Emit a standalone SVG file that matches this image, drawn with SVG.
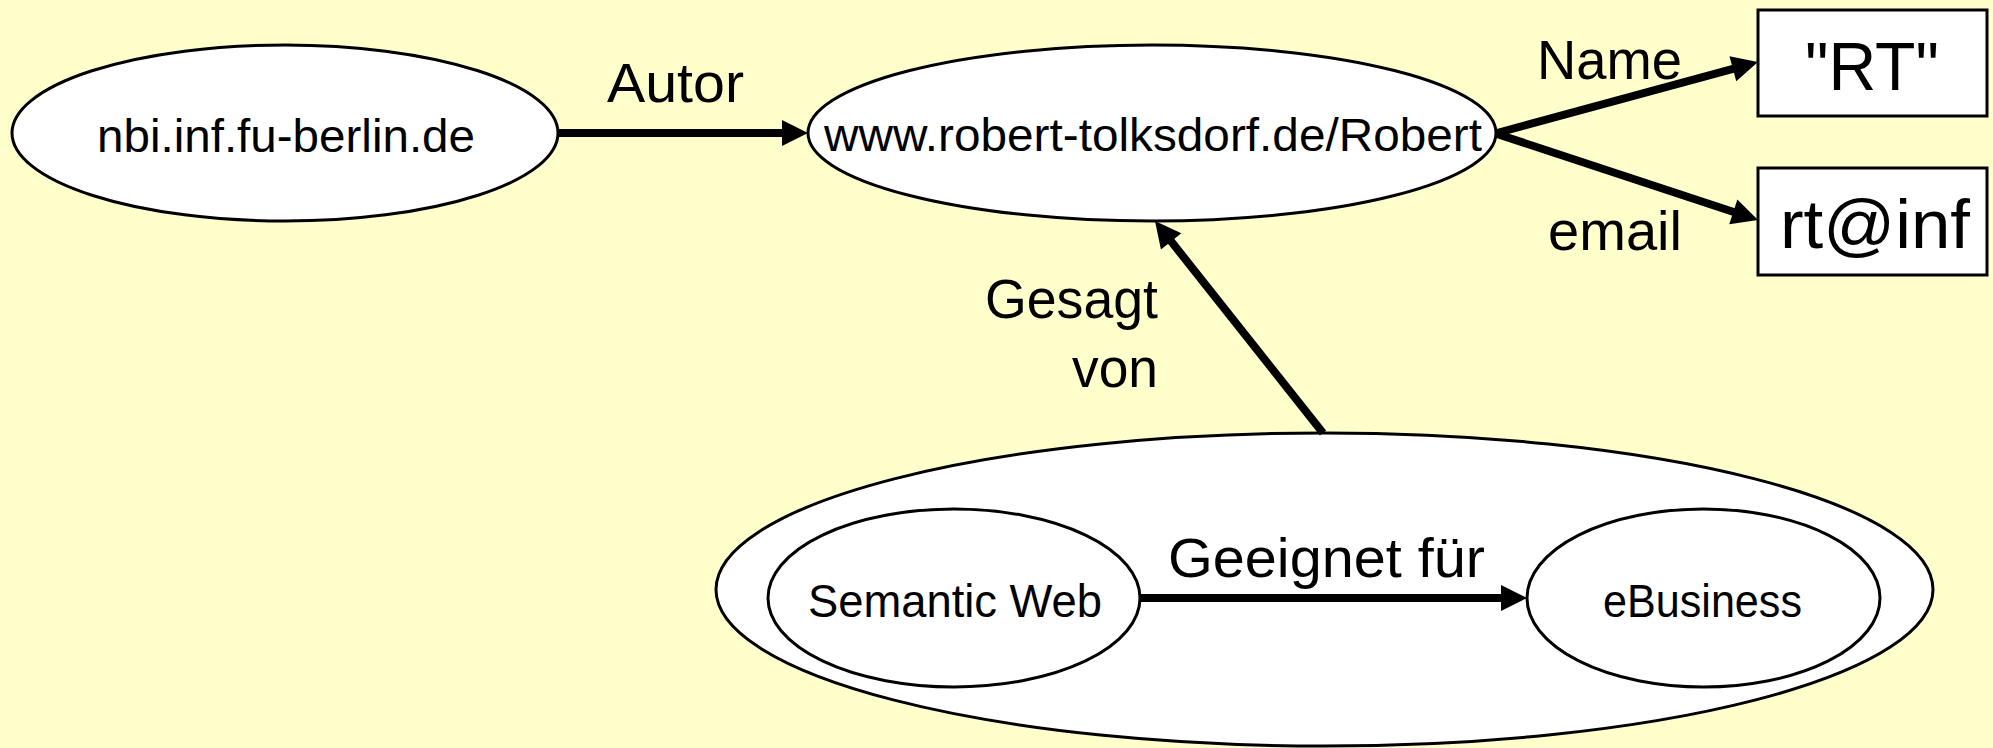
<svg xmlns="http://www.w3.org/2000/svg" width="1993" height="748" viewBox="0 0 1993 748">
<style>
.node{fill:#fff;stroke:#000;stroke-width:3}
.t{font-family:"Liberation Sans",Arial,sans-serif;fill:#000}
.nt{font-size:47px;text-anchor:middle}
.lbl{font-size:56px}
.box{font-size:68px;text-anchor:middle}
.edge{stroke:#000;stroke-width:8;fill:none;marker-end:url(#arr)}
</style>
<defs>
<marker id="arr" markerUnits="userSpaceOnUse" markerWidth="30" markerHeight="30" viewBox="0 -15 30 30" refX="2" refY="0" orient="auto" overflow="visible">
<path d="M0,-13 L26,0 L0,13 Z" fill="#000"/>
</marker>
</defs>
<rect width="1993" height="748" fill="#FFFFCC"/>
<g id="nbi">
<ellipse class="node" cx="285" cy="133" rx="273" ry="88"/>
<text class="t nt" x="286" y="152" textLength="378" lengthAdjust="spacingAndGlyphs">nbi.inf.fu-berlin.de</text>
</g>
<g id="robert">
<ellipse class="node" cx="1152" cy="133" rx="344" ry="88"/>
<text class="t nt" x="1153" y="151" textLength="658" lengthAdjust="spacingAndGlyphs">www.robert-tolksdorf.de/Robert</text>
</g>
<g id="rt-name">
<rect class="node" x="1758" y="10" width="229" height="106"/>
<text class="t box" x="1872" y="90" textLength="134" lengthAdjust="spacingAndGlyphs">"RT"</text>
</g>
<g id="rt-email">
<rect class="node" x="1758" y="168" width="229" height="107"/>
<text class="t box" x="1875" y="248" textLength="190" lengthAdjust="spacingAndGlyphs">rt@inf</text>
</g>
<g id="statement">
<ellipse class="node" cx="1324.5" cy="589.5" rx="608.5" ry="156.5"/>
</g>
<g id="semweb">
<ellipse class="node" cx="954" cy="598" rx="186" ry="89"/>
<text class="t nt" x="955" y="617" textLength="294" lengthAdjust="spacingAndGlyphs">Semantic Web</text>
</g>
<g id="ebusiness">
<ellipse class="node" cx="1703.5" cy="598" rx="176.5" ry="89"/>
<text class="t nt" x="1702.5" y="617" textLength="199" lengthAdjust="spacingAndGlyphs">eBusiness</text>
</g>
<g id="connectors">
<line class="edge" x1="558" y1="133" x2="784" y2="133"/>
<line class="edge" x1="1497" y1="133" x2="1734.8" y2="68.3"/>
<line class="edge" x1="1497" y1="134" x2="1735.2" y2="212.5"/>
<line class="edge" x1="1323" y1="433" x2="1169.9" y2="239.8"/>
<line class="edge" x1="1140" y1="598" x2="1503" y2="598"/>
</g>
<g id="labels">
<text class="t lbl" x="607" y="102" textLength="137" lengthAdjust="spacingAndGlyphs">Autor</text>
<text class="t lbl" x="1537" y="79" textLength="145" lengthAdjust="spacingAndGlyphs">Name</text>
<text class="t lbl" x="1548" y="250" textLength="134" lengthAdjust="spacingAndGlyphs">email</text>
<text class="t lbl" x="985" y="318" textLength="173" lengthAdjust="spacingAndGlyphs">Gesagt</text>
<text class="t lbl" x="1072" y="387" textLength="86" lengthAdjust="spacingAndGlyphs">von</text>
<text class="t lbl" x="1168" y="577" textLength="317" lengthAdjust="spacingAndGlyphs">Geeignet für</text>
</g>
</svg>
